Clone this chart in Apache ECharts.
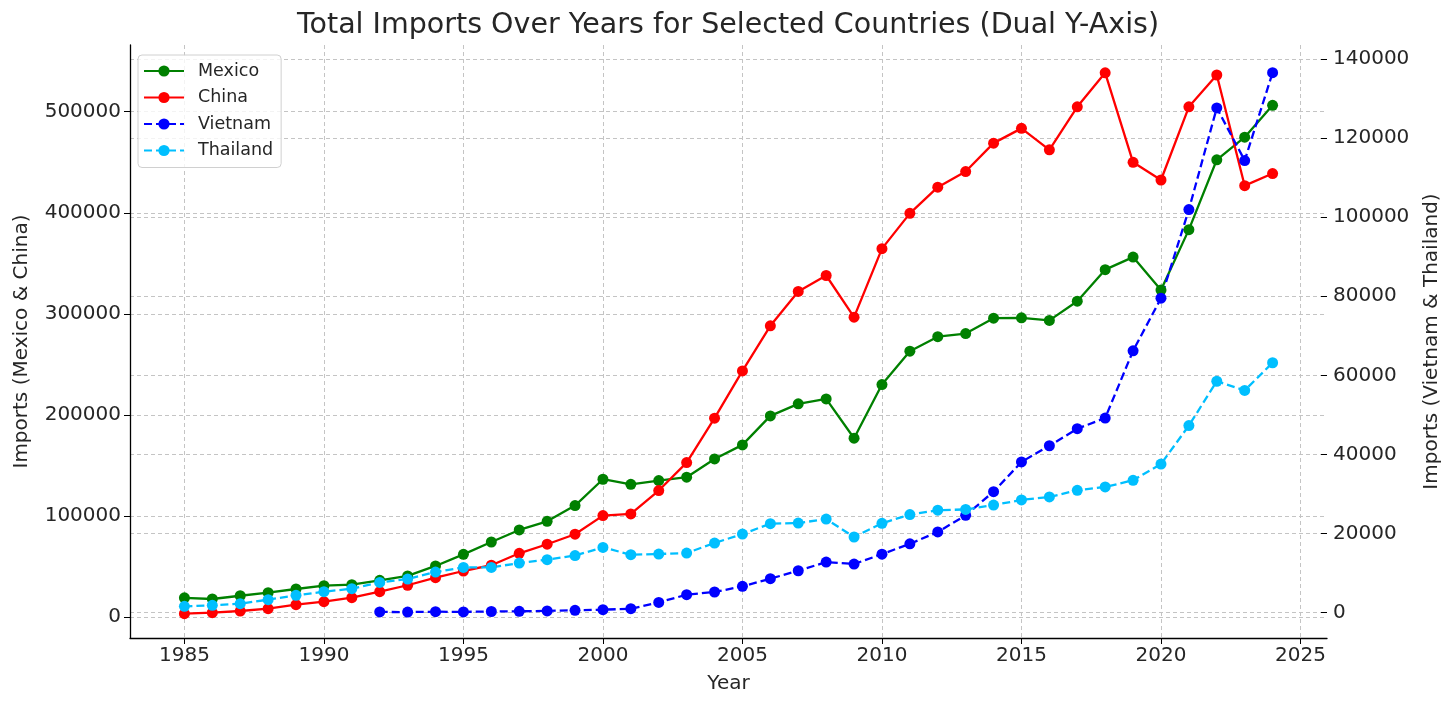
<!DOCTYPE html>
<html>
<head>
<meta charset="UTF-8">
<title>Total Imports Over Years</title>
<script src="https://cdn.jsdelivr.net/npm/echarts@6/dist/echarts.min.js"></script>
<style>
html, body { margin: 0; padding: 0; background: #fff; }
#chart { width: 1456px; height: 709px; }
</style>
</head>
<body>
<div id="chart"></div>
<script>
// data
var years = [1985, 1986, 1987, 1988, 1989, 1990, 1991, 1992, 1993, 1994,
  1995, 1996, 1997, 1998, 1999, 2000, 2001, 2002, 2003, 2004,
  2005, 2006, 2007, 2008, 2009, 2010, 2011, 2012, 2013, 2014,
  2015, 2016, 2017, 2018, 2019, 2020, 2021, 2022, 2023, 2024];

var mexico = [19000, 17800, 21000, 24000, 27700, 31000, 32000, 36300, 40600, 50500,
  62000, 74200, 86100, 94700, 110200, 136300, 131300, 135000, 138300, 156400,
  170300, 199000, 210900, 215800, 176900, 230000, 263000, 277400, 280400, 295700,
  296000, 293500, 312500, 343700, 356100, 323500, 383300, 452400, 474800, 506300];

var china = [3300, 4300, 5900, 8200, 12200, 15100, 19100, 25000, 31400, 38900,
  45500, 51200, 63000, 72000, 81900, 100300, 102000, 125100, 152800, 196700,
  243500, 288100, 322100, 337900, 296700, 364500, 399400, 425300, 440800, 468900,
  483500, 462300, 504800, 538500, 449900, 432400, 504800, 536300, 426800, 438800];

var vietnam = [null, null, null, null, null, null, null, 200, 150, 250,
  200, 300, 350, 450, 600, 760, 1000, 2600, 4550, 5230,
  6650, 8590, 10600, 12800, 12300, 14800, 17400, 20400, 24600, 30600,
  38100, 42200, 46500, 49200, 66200, 79500, 101900, 127600, 114300, 136500];

var thailand = [1600, 1850, 2270, 3290, 4380, 5310, 6060, 7660, 8510, 10280,
  11450, 11450, 12550, 13390, 14450, 16500, 14660, 14830, 15080, 17610,
  19880, 22490, 22660, 23670, 19130, 22600, 24800, 25900, 26100, 27200,
  28500, 29250, 30930, 31780, 33460, 37570, 47290, 58500, 56170, 63180];

var xTicks = [1985, 1990, 1995, 2000, 2005, 2010, 2015, 2020, 2025];
var leftTicks = [0, 100000, 200000, 300000, 400000, 500000];
var rightTicks = [0, 20000, 40000, 60000, 80000, 100000, 120000, 140000];

function pairs(vals) {
  var out = [];
  for (var i = 0; i < years.length; i++) {
    if (vals[i] !== null) out.push([years[i], vals[i]]);
  }
  return out;
}

function plain(v) { return String(v); }

var font = 'DejaVu Sans';
var textColor = '#262626';
var gridLine = { show: true, lineStyle: { color: '#c4c4c4', type: [4, 3], width: 1 } };

function makeSeries(name, vals, color, axis, dashed) {
  return {
    name: name,
    type: 'line',
    yAxisIndex: axis,
    data: pairs(vals),
    symbol: 'circle',
    symbolSize: 11,
    showSymbol: true,
    itemStyle: { color: color },
    lineStyle: { color: color, width: 2.3, type: dashed ? [8, 4] : 'solid' },
    emphasis: { disabled: true },
    animation: false
  };
}

var myChart = echarts.init(document.getElementById('chart'));

var option = {
  backgroundColor: '#fff',
  textStyle: { fontFamily: font },
  title: {
    text: 'Total Imports Over Years for Selected Countries (Dual Y-Axis)',
    left: 'center',
    top: 6,
    textStyle: { fontFamily: font, fontSize: 28.5, fontWeight: 'normal', color: textColor }
  },
  legend: {
    orient: 'vertical',
    left: 138,
    top: 55,
    itemWidth: 40,
    itemHeight: 14,
    itemGap: 8.5,
    padding: [7, 8, 8, 5],
    borderColor: '#d0d0d0',
    borderWidth: 1,
    borderRadius: 4,
    backgroundColor: 'rgba(255,255,255,0.8)',
    textStyle: { fontFamily: font, fontSize: 17.5, color: textColor, padding: [0, 0, 0, 9] },
    data: ['Mexico', 'China', 'Vietnam', 'Thailand']
  },
  grid: { left: 130, right: 129, top: 45, bottom: 71, containLabel: false },
  xAxis: {
    type: 'value',
    min: 1983.05,
    max: 2025.95,
    name: 'Year',
    nameLocation: 'middle',
    nameGap: 36,
    nameTextStyle: { fontFamily: font, fontSize: 20, color: textColor },
    axisLine: { show: true, onZero: false, lineStyle: { color: '#000', width: 1.3 } },
    axisTick: { show: true, length: 6, customValues: xTicks, lineStyle: { color: '#000' } },
    axisLabel: { customValues: xTicks, formatter: plain, fontSize: 20, color: textColor, margin: 8 },
    splitLine: gridLine
  },
  yAxis: [{
    type: 'value',
    min: -20800,
    max: 566000,
    position: 'left',
    name: 'Imports (Mexico & China)',
    nameLocation: 'middle',
    nameGap: 98,
    nameTextStyle: { fontFamily: font, fontSize: 20, color: textColor },
    axisLine: { show: true, onZero: false, lineStyle: { color: '#000', width: 1.3 } },
    axisTick: { show: true, length: 6, customValues: leftTicks, lineStyle: { color: '#000' } },
    axisLabel: { customValues: leftTicks, formatter: plain, fontSize: 20, color: textColor, margin: 9 },
    splitLine: gridLine
  }, {
    type: 'value',
    min: -6400,
    max: 143500,
    position: 'right',
    name: 'Imports (Vietnam & Thailand)',
    nameLocation: 'middle',
    nameGap: 95,
    nameTextStyle: { fontFamily: font, fontSize: 20, color: textColor },
    axisLine: { show: false, onZero: false },
    axisTick: { show: true, inside: true, length: 6, customValues: rightTicks, lineStyle: { color: '#000' } },
    axisLabel: { customValues: rightTicks, formatter: plain, fontSize: 20, color: textColor, margin: 6 },
    splitLine: gridLine
  }],
  series: [
    makeSeries('Mexico', mexico, '#008000', 0, false),
    makeSeries('China', china, '#ff0000', 0, false),
    makeSeries('Vietnam', vietnam, '#0000ff', 1, true),
    makeSeries('Thailand', thailand, '#00bfff', 1, true)
  ]
};

myChart.setOption(option);
</script>
</body>
</html>
